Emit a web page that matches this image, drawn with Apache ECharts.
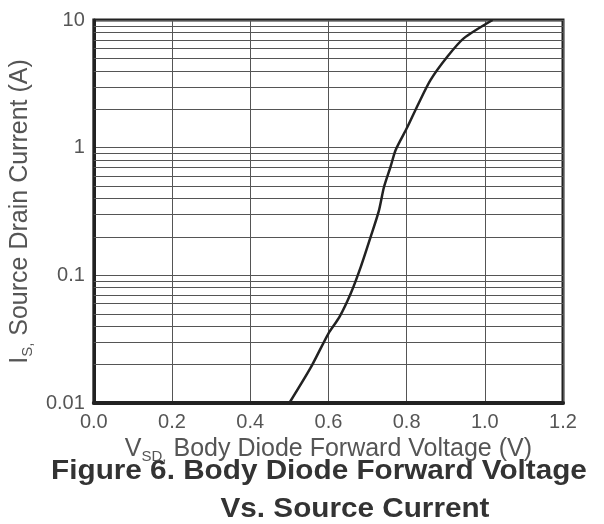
<!DOCTYPE html>
<html>
<head>
<meta charset="utf-8">
<script src="https://cdn.jsdelivr.net/npm/echarts@6/dist/echarts.min.js"></script>
<style>html,body{margin:0;padding:0;background:#fff;}#c{width:604px;height:524px;}</style>
</head>
<body>
<div id="c"></div>
<script>
const voltage = [0.50, 0.555, 0.60, 0.628, 0.657, 0.683, 0.708, 0.729, 0.742, 0.759, 0.772, 0.802, 0.83, 0.861, 0.904, 0.946, 1.02];
const current = [0.01, 0.019, 0.035, 0.047, 0.072, 0.117, 0.20, 0.32, 0.49, 0.71, 0.96, 1.45, 2.2, 3.38, 5.15, 7.18, 10];
const xTicks = [0, 0.2, 0.4, 0.6, 0.8, 1.0, 1.2];
const yTicks = [0.01, 0.1, 1, 10];
const yGridLines = [0.02,0.03,0.04,0.05,0.06,0.07,0.08,0.09,
                    0.2,0.3,0.4,0.5,0.6,0.7,0.8,0.9,
                    2,3,4,5,6,7,8,9];

const chart = echarts.init(document.getElementById('c'), null, {renderer: 'canvas'});
const font = '"Liberation Sans", Arial, sans-serif';
const gridColor = '#555';
chart.setOption({
  animation: false,
  grid: {left: 92, top: 20, width: 471, height: 383, show: true, borderColor: '#222', borderWidth: 3, backgroundColor: 'transparent'},
  xAxis: {
    type: 'value', min: xTicks[0], max: xTicks[xTicks.length-1], interval: 0.2,
    axisLine: {show: true, lineStyle: {color: '#222', width: 4}},
    axisTick: {show: false},
    axisLabel: {margin: 9, fontFamily: font, fontSize: 20, color: '#555', formatter: v => v.toFixed(1)},
    splitLine: {show: true, lineStyle: {color: gridColor, width: 1}},
    name: '{a|V}{s|SD}{s|,}{a| Body Diode Forward Voltage (V)}',
    nameLocation: 'middle', nameGap: 31,
    nameTextStyle: {
      rich: {
        a: {fontFamily: font, fontSize: 25, color: '#555'},
        s: {fontFamily: font, fontSize: 15, color: '#555', padding: [14, 0, 0, 0]}
      }
    }
  },
  yAxis: {
    type: 'log', logBase: 10, min: yTicks[0], max: yTicks[yTicks.length-1],
    axisLine: {show: true, lineStyle: {color: '#222', width: 3}},
    axisTick: {show: false},
    axisLabel: {margin: 9, fontFamily: font, fontSize: 20, color: '#555',
      formatter: v => { const t = yTicks.find(t => Math.abs(t - v) / t < 1e-6); return t !== undefined ? String(t) : ''; }},
    splitLine: {show: true, lineStyle: {color: gridColor, width: 1}},
    minorTick: {show: false},
    name: '{a|I}{s|S}{s|,}{a| Source Drain Current (A)}',
    nameLocation: 'middle', nameGap: 47, nameRotate: 90,
    nameTextStyle: {
      rich: {
        a: {fontFamily: font, fontSize: 25, color: '#555'},
        s: {fontFamily: font, fontSize: 15, color: '#555', padding: [14, 0, 0, 0]}
      }
    }
  },
  graphic: [
    {type: 'text', x: 319, y: 472, scaleX: 1.1, style: {text: 'Figure 6. Body Diode Forward Voltage', font: 'bold 27px ' + font, fill: '#333', textAlign: 'center', textVerticalAlign: 'middle'}},
    {type: 'text', x: 355, y: 510, scaleX: 1.1, style: {text: 'Vs. Source Current', font: 'bold 27px ' + font, fill: '#333', textAlign: 'center', textVerticalAlign: 'middle'}}
  ],
  series: [{
    type: 'line',
    data: voltage.map((v, i) => [v, current[i]]),
    smooth: 0.25,
    symbol: 'none',
    lineStyle: {color: '#222', width: 2.5},
    markLine: {
      silent: true, symbol: 'none', label: {show: false},
      lineStyle: {color: gridColor, width: 1, type: 'solid'},
      data: yGridLines.map(y => ({yAxis: y}))
    },
    z: 5
  }]
});
</script>
</body>
</html>
